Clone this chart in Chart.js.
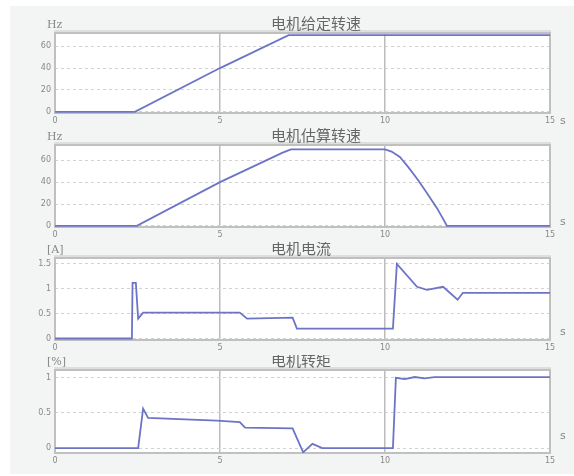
<!DOCTYPE html>
<html>
<head>
<meta charset="utf-8">
<script src="https://cdn.jsdelivr.net/npm/chart.js@4/dist/chart.umd.min.js"></script>
<style>
  body { margin: 0; background: #fff; width: 574px; height: 476px; overflow: hidden; }
  #bg { position: absolute; left: 10px; top: 6px; width: 564px; height: 468px; background: #f3f4f4; }
  canvas { position: absolute; left: 0; }
</style>
</head>
<body>
<div id="bg"></div>
<canvas id="c1" width="574" height="128" style="top:0px"></canvas>
<canvas id="c2" width="574" height="114" style="top:128px"></canvas>
<canvas id="c3" width="574" height="113" style="top:242px"></canvas>
<canvas id="c4" width="574" height="113" style="top:355px"></canvas>
<script>
// time axis (s)
const xTicks = [0, 5, 10, 15];

// 电机给定转速 (Hz)
const givenTime = [0, 2.42, 5.0, 7.08, 15];
const givenSpeed = [0, 0, 40, 70, 70];

// 电机估算转速 (Hz)
const estTime = [0, 2.48, 5.0, 6.9, 7.15, 10.0, 10.2, 10.45, 10.7, 11.0, 11.27, 11.58, 11.88, 15];
const estSpeed = [0, 0, 40, 67, 70, 70, 68, 63, 54, 42, 30, 16, 0, 0];

// 电机电流
const curTime = [0, 2.33, 2.35, 2.45, 2.52, 2.67, 5.6, 5.82, 6.5, 7.2, 7.33, 10.24, 10.36, 10.97, 11.27, 11.76, 12.2, 12.36, 15];
const curValue = [0, 0, 1.12, 1.12, 0.4, 0.52, 0.52, 0.4, 0.41, 0.42, 0.2, 0.2, 1.5, 1.04, 0.98, 1.04, 0.78, 0.92, 0.92];

// 电机转矩
const torTime = [0, 2.52, 2.67, 2.82, 4.9, 5.6, 5.76, 7.2, 7.52, 7.8, 8.1, 10.24, 10.33, 10.6, 10.9, 11.2, 11.5, 15];
const torValue = [0, 0, 0.56, 0.43, 0.39, 0.37, 0.29, 0.28, -0.06, 0.06, 0, 0, 1.0, 0.98, 1.01, 0.99, 1.01, 1.01];

const speedTicks = [0, 20, 40, 60];
const currentTicks = [0, 0.5, 1, 1.5];
const torqueTicks = [0, 0.5, 1];

const lineColor = '#6d74c6';
const tickFont = { family: 'DejaVu Sans', size: 8 };

// white plot area, frame, title, unit labels
const panelDeco = {
  id: 'panelDeco',
  beforeDraw(chart) {
    const { ctx, chartArea: a } = chart;
    ctx.save();
    ctx.fillStyle = '#ffffff';
    ctx.fillRect(a.left, a.top, a.right - a.left, a.bottom - a.top);
    ctx.restore();
  },
  beforeDatasetsDraw(chart) {
    const { ctx, chartArea: a } = chart;
    ctx.save();
    ctx.fillStyle = '#dedede';
    ctx.fillRect(a.left - 1, a.top - 3, a.right - a.left + 2, 3);
    ctx.strokeStyle = '#c0c0c0';
    ctx.lineWidth = 2;
    ctx.strokeRect(a.left, a.top, a.right - a.left, a.bottom - a.top);
    ctx.restore();
  },
  afterDraw(chart, args, opts) {
    const { ctx, chartArea: a } = chart;
    ctx.save();
    ctx.fillStyle = '#666';
    ctx.textBaseline = 'alphabetic';
    ctx.font = '15px "Noto Sans CJK SC"';
    ctx.fillText(opts.title, 271, a.top - 4);
    ctx.font = '11px "DejaVu Serif"';
    ctx.fillStyle = '#888';
    ctx.fillText(opts.unit, a.left - 8, a.top - 5);
    ctx.font = '11px "DejaVu Sans"';
    ctx.fillText('s', 560, a.bottom + opts.sOffset);
    ctx.restore();
  }
};

function makeChart(id, times, values, yTicks, yMin, yMax, padTop, title, unit, sOffset) {
  const points = times.map((t, i) => ({ x: t, y: values[i] }));
  return new Chart(document.getElementById(id), {
    type: 'line',
    data: {
      datasets: [{
        data: points,
        borderColor: lineColor,
        borderWidth: 1.8,
        pointRadius: 0,
        tension: 0
      }]
    },
    options: {
      responsive: false,
      animation: false,
      layout: { padding: { left: 15, right: 24, top: padTop, bottom: 0 } },
      plugins: {
        legend: { display: false },
        tooltip: { enabled: false },
        panelDeco: { title, unit, sOffset }
      },
      scales: {
        x: {
          type: 'linear',
          min: 0,
          max: 15,
          afterBuildTicks: s => { s.ticks = xTicks.map(v => ({ value: v })); },
          afterFit: s => { s.height = 15; },
          ticks: { color: '#888', font: tickFont, padding: 3, maxRotation: 0 },
          grid: {
            drawTicks: false,
            color: c => (c.tick && (c.tick.value === 5 || c.tick.value === 10)) ? '#bcbcbc' : 'rgba(0,0,0,0)',
            lineWidth: 1.5
          },
          border: { display: false }
        },
        y: {
          min: yMin,
          max: yMax,
          afterBuildTicks: s => { s.ticks = yTicks.map(v => ({ value: v })); },
          afterFit: s => { s.width = 40; },
          ticks: { color: '#888', font: tickFont, padding: 4, callback: v => String(v) },
          grid: { drawTicks: false, color: '#d2d2d2', lineWidth: 1 },
          border: { display: false, dash: [3, 3] }
        }
      }
    },
    plugins: [panelDeco]
  });
}

makeChart('c1', givenTime, givenSpeed, speedTicks, -1, 72, 33, '电机给定转速', 'Hz', 11);
makeChart('c2', estTime, estSpeed, speedTicks, -1, 74, 17, '电机估算转速', 'Hz', -2);
makeChart('c3', curTime, curValue, currentTicks, -0.03, 1.62, 16, '电机电流', '[A]', -5);
makeChart('c4', torTime, torValue, torqueTicks, -0.07, 1.11, 15, '电机转矩', '[%]', -14);
</script>
</body>
</html>
